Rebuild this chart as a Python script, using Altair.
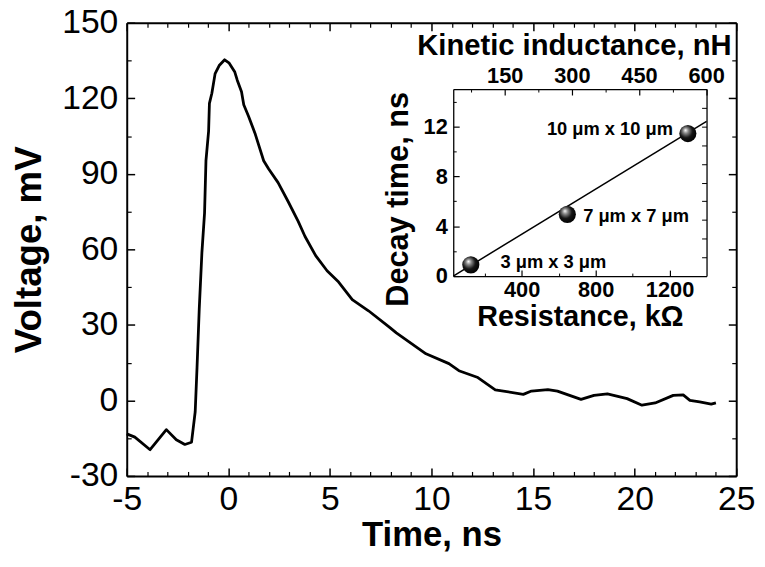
import altair as alt
import pandas as pd

# ---------------- data ----------------
time_ns = [-5.0, -4.6, -3.85, -3.05, -2.56, -2.14, -1.81, -1.63, -1.54, -1.43,
           -1.30, -1.17, -1.10, -0.97, -0.93, -0.81, -0.65, -0.45, -0.18, 0.03,
           0.32, 0.44, 0.65, 0.76, 1.00, 1.33, 1.74, 1.98, 2.45, 2.95,
           3.44, 3.77, 4.30, 4.86, 5.43, 6.10, 6.90, 7.94, 8.27, 9.73,
           10.86, 11.35, 12.25, 13.14, 14.52, 14.92, 15.73, 16.20, 17.36, 18.00,
           18.66, 19.63, 20.36, 21.01, 21.90, 22.39, 22.72, 23.20, 23.77, 24.00]
voltage_mv = [-13.3, -14.6, -19.6, -11.6, -15.6, -17.5, -16.6, -4.5, 13.0, 36.5,
              58.7, 74.4, 95.2, 107.0, 118.0, 122.0, 129.8, 133.0, 135.3, 134.1,
              130.4, 127.2, 122.6, 117.4, 112.8, 105.7, 95.2, 92.0, 86.5, 78.9,
              71.1, 65.2, 57.5, 51.5, 47.0, 40.0, 35.6, 29.0, 26.8, 18.5,
              14.6, 11.8, 9.2, 4.2, 2.4, 3.7, 4.3, 3.7, 0.4, 2.0,
              2.6, 0.7, -1.9, -1.0, 2.0, 2.2, 0.0, -0.6, -1.5, -1.0]

resistance_kohm = [125, 647, 1299]
decay_ns = [0.9, 4.95, 11.43]
size_labels = ["3 μm x 3 μm", "7 μm x 7 μm", "10 μm x 10 μm"]
fit_resistance = [30, 1400]
fit_decay = [0.0, 12.4]
inductance_ends = [35, 601]

main_x_major = [-5, 0, 5, 10, 15, 20, 25]
main_x_minor = [v for v in range(-4, 25) if v % 5 != 0]
main_y_major = [-30, 0, 30, 60, 90, 120, 150]
main_y_minor = [-15, 15, 45, 75, 105, 135]
inset_x_major = [400, 800, 1200]
inset_x_minor = [200, 600, 1000]
inset_y_major = [0, 4, 8, 12]
inset_y_minor = [2, 6, 10, 14]
inset_top_major = [150, 300, 450, 600]
inset_top_minor = [75, 225, 375, 525]
inset_right_ticks = [1.5, 3, 4.5, 6, 7.5, 9, 10.5, 12, 13.5]

# ---------------- layout ----------------
W, H = 616, 458
IX = [330, 586]
IY = [256, 67]
FONT = "Liberation Sans, Arial, Helvetica, sans-serif"

main_df = pd.DataFrame({"t": time_ns, "v": voltage_mv})
pts_df = pd.DataFrame({"R": resistance_kohm, "tau": decay_ns, "label": size_labels})
fit_df = pd.DataFrame({"R": fit_resistance, "tau": fit_decay})
top_df = pd.DataFrame({"L": inductance_ends, "tau": [0, 15]})

xs_main = alt.Scale(domain=[-5, 25], nice=False, zero=False)
ys_main = alt.Scale(domain=[-30, 150], nice=False, zero=False)
xs_in = alt.Scale(domain=[30, 1400], range=IX, nice=False, zero=False)
ys_in = alt.Scale(domain=[0, 15], range=IY, nice=False, zero=False)
xs_top = alt.Scale(domain=[35, 601], range=IX, nice=False, zero=False)


def tick_axis(orient, values, size, width, offset=0, domain=False, dwidth=2.0):
    return alt.Axis(orient=orient, values=values, tickSize={"expr": str(-size)},
                    tickWidth=width, tickColor="black", domain=domain,
                    domainColor="black", domainWidth=dwidth, labels=False,
                    title=None, offset=offset, grid=False)


def label_axis(orient, values, size, width, fsize, weight, pad, title, tsize,
               tpad, offset=0, dwidth=2.0, **extra):
    return alt.Axis(orient=orient, values=values, tickSize={"expr": str(-size)},
                    tickWidth=width, tickColor="black", domain=True,
                    domainColor="black", domainWidth=dwidth, labels=True,
                    labelFont=FONT, labelFontSize=fsize, labelFontWeight=weight,
                    labelColor="black", labelPadding=pad, labelFlush=False,
                    labelOverlap=False, labelExpr="datum.value + ''",
                    title=title, titleFont=FONT, titleFontSize=tsize,
                    titleFontWeight="bold", titleColor="black",
                    titlePadding=tpad, offset=offset, grid=False, **extra)


# main curve with bottom / left labelled axes
line = alt.Chart(main_df).mark_line(color="black", strokeWidth=2.8,
                                    strokeJoin="round").encode(
    x=alt.X("t:Q", scale=xs_main,
            axis=label_axis("bottom", main_x_major, 8, 1.5, 34, "normal", 15,
                            "Time, ns", 35, 1)),
    y=alt.Y("v:Q", scale=ys_main,
            axis=label_axis("left", main_y_major, 8, 1.5, 34, "normal", 17,
                            "Voltage, mV", 37, 13)),
)

ghost = dict(strokeOpacity=0)
main_minor = alt.Chart(main_df).mark_line(**ghost).encode(
    x=alt.X("t:Q", scale=xs_main, axis=tick_axis("bottom", main_x_minor, 4.5, 1.2)),
    y=alt.Y("v:Q", scale=ys_main, axis=tick_axis("left", main_y_minor, 4.5, 1.2)),
)
main_mirror = alt.Chart(main_df).mark_line(**ghost).encode(
    x=alt.X("t:Q", scale=xs_main,
            axis=tick_axis("top", main_x_major, 8, 1.5, domain=True)),
    y=alt.Y("v:Q", scale=ys_main,
            axis=tick_axis("right", main_y_major, 8, 1.5, domain=True)),
)
main_mirror_minor = alt.Chart(main_df).mark_line(**ghost).encode(
    x=alt.X("t:Q", scale=xs_main, axis=tick_axis("top", main_x_minor, 4.5, 1.2)),
    y=alt.Y("v:Q", scale=ys_main, axis=tick_axis("right", main_y_minor, 4.5, 1.2)),
)

# inset
off_bottom = -(H - IY[0])
off_left = -IX[0]
off_top = -IY[1]
off_right = -(W - IX[1])

fit = alt.Chart(fit_df).mark_line(color="black", strokeWidth=1.5).encode(
    x=alt.X("R:Q", scale=xs_in,
            axis=label_axis("bottom", inset_x_major, 6, 1.2, 22, "bold", 10,
                            "Resistance, kΩ", 29, 2, offset=off_bottom,
                            dwidth=1.3)),
    y=alt.Y("tau:Q", scale=ys_in,
            axis=label_axis("left", inset_y_major, 6, 1.2, 22, "bold", 12,
                            "Decay time, ns", 31, 9, offset=off_left,
                            dwidth=1.3, titleY=178)),
)
inset_minor = alt.Chart(fit_df).mark_line(**ghost).encode(
    x=alt.X("R:Q", scale=xs_in,
            axis=tick_axis("bottom", inset_x_minor, 3, 1.0, offset=off_bottom)),
    y=alt.Y("tau:Q", scale=ys_in,
            axis=tick_axis("left", inset_y_minor, 3, 1.0, offset=off_left)),
)
inset_top = alt.Chart(top_df).mark_line(**ghost).encode(
    x=alt.X("L:Q", scale=xs_top,
            axis=label_axis("top", inset_top_major, 6, 1.2, 22, "bold", 8,
                            "Kinetic inductance, nH", 29.5, 4, offset=off_top,
                            dwidth=1.3, titleX=452)),
    y=alt.Y("tau:Q", scale=ys_in,
            axis=tick_axis("right", inset_right_ticks, 5, 1.0, offset=off_right,
                           domain=True, dwidth=1.3)),
)
inset_top_minor = alt.Chart(top_df).mark_line(**ghost).encode(
    x=alt.X("L:Q", scale=xs_top,
            axis=tick_axis("top", inset_top_minor, 3, 1.0, offset=off_top)),
    y=alt.Y("tau:Q", scale=ys_in, axis=None),
)

sphere = alt.RadialGradient(
    gradient="radial",
    stops=[alt.GradientStop(offset=0.0, color="#ffffff"),
           alt.GradientStop(offset=0.25, color="#8a8a8a"),
           alt.GradientStop(offset=0.6, color="#151515"),
           alt.GradientStop(offset=1.0, color="#000000")],
    x1=0.36, y1=0.3, r1=0.0, x2=0.42, y2=0.42, r2=0.62,
)
points = alt.Chart(pts_df).mark_point(shape="circle", filled=True, size=300,
                                      fill=sphere, strokeOpacity=0,
                                      opacity=1).encode(
    x=alt.X("R:Q", scale=xs_in, axis=None),
    y=alt.Y("tau:Q", scale=ys_in, axis=None),
)


def label_layer(idx, align, dx, dy):
    return alt.Chart(pts_df).transform_filter(
        alt.datum.label == size_labels[idx]
    ).mark_text(font=FONT, fontSize=18.5, fontWeight="bold", color="black",
                align=align, baseline="middle", dx=dx, dy=dy).encode(
        x=alt.X("R:Q", scale=xs_in, axis=None),
        y=alt.Y("tau:Q", scale=ys_in, axis=None),
        text="label:N",
    )


lab0 = label_layer(0, "left", 30, -3)
lab1 = label_layer(1, "left", 16, 2)
lab2 = label_layer(2, "right", -15, -5)

chart = alt.layer(
    line, main_minor, main_mirror, main_mirror_minor,
    fit, inset_minor, inset_top, inset_top_minor,
    points, lab0, lab1, lab2,
).resolve_scale(x="independent", y="independent").properties(
    width=W, height=H,
    padding={"left": 120, "top": 12, "right": 21, "bottom": 77},
    autosize=alt.AutoSizeParams(type="none"),
).configure_view(stroke=None).configure_axis(grid=False)

chart.save("out.html", embed_options={"renderer": "svg", "actions": False})
